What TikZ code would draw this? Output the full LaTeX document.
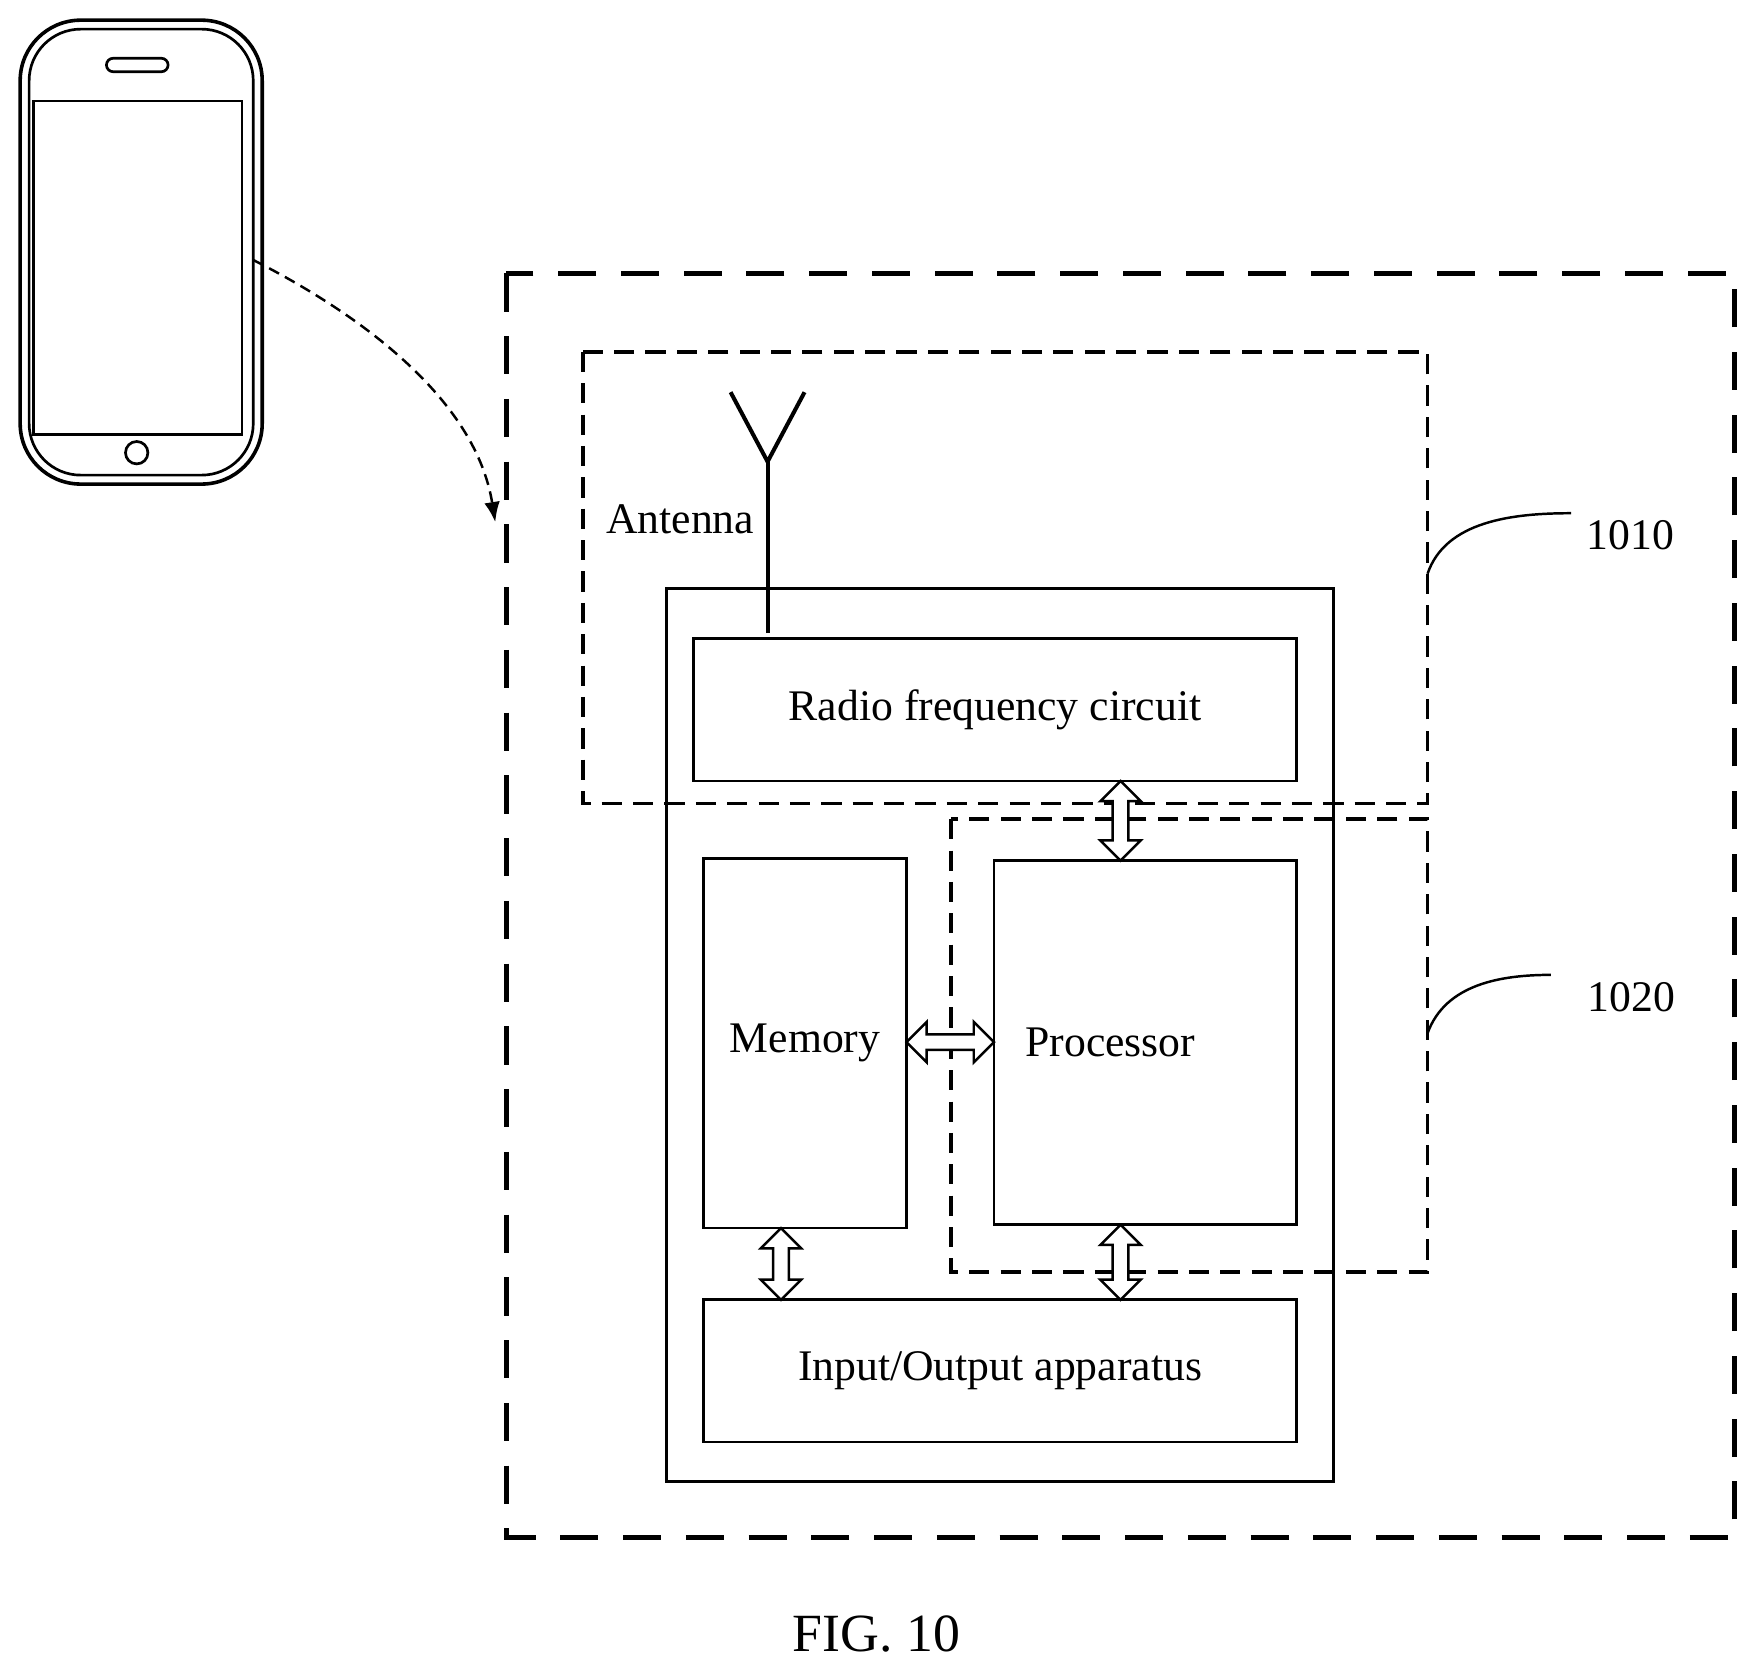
\documentclass[tikz,border=0pt]{standalone}
\usepackage{fontspec}
\setmainfont{Liberation Serif}
\usetikzlibrary{arrows.meta}
\newcommand\dblV[3]{% x, ytop, ybot
 \draw[line width=1.1pt,fill=white] (#1,#2) -- (#1+18,#2+18) -- (#1+7,#2+18) -- (#1+7,#3-18) -- (#1+18,#3-18) -- (#1,#3) -- (#1-18,#3-18) -- (#1-7,#3-18) -- (#1-7,#2+18) -- (#1-18,#2+18) -- cycle;}
\newcommand\dblH[3]{% y, xleft, xright
 \draw[line width=1.1pt,fill=white] (#2,#1) -- (#2+18,#1-18) -- (#2+18,#1-7) -- (#3-18,#1-7) -- (#3-18,#1-18) -- (#3,#1) -- (#3-18,#1+18) -- (#3-18,#1+7) -- (#2+18,#1+7) -- (#2+18,#1+18) -- cycle;}
\begin{document}
\begin{tikzpicture}[x=0.5pt,y=-0.5pt,
 box/.style={draw,line width=1.2pt,inner sep=0pt},
 lbl/.style={font=\fontsize{19.5}{21}\selectfont},
 big/.style={line width=2.4pt,dash pattern=on 17pt off 11pt},
 mid/.style={line width=1.7pt,dash pattern=on 9pt off 5pt}]
\useasboundingbox (0,0) rectangle (1568,1494);
% phone
\draw[line width=1.6pt,rounded corners=27pt] (18,18) rectangle (234,432);
\draw[line width=1.2pt,rounded corners=23pt] (26,26) rectangle (226,424);
\draw[line width=1.2pt] (30,90) rectangle (216,388);
\draw[line width=1.2pt,rounded corners=3pt] (95,52) rectangle (150,64);
\node[circle,draw,line width=1.2pt,minimum size=10pt,inner sep=0pt] (home) at (122,404) {};
\coordinate (ps) at (226,232);
\coordinate (pe) at (442,466);
\draw[line width=1.1pt,dash pattern=on 5pt off 3pt,-{Latex[length=9pt,width=7pt]}] (ps) .. controls (330,285) and (425,360) .. (pe);
% boxes
\draw[big] (452,244) rectangle (1548,1372);
\draw[mid] (520,314) rectangle (1274,717);
\draw[mid] (849,731) rectangle (1274,1135);
\draw[line width=1.2pt] (595,525) rectangle (1190,1322);
\node[box,minimum width=269pt,minimum height=63.5pt,lbl] (rf) at (888,633.5) {Radio frequency circuit};
\node[box,minimum width=90.5pt,minimum height=165pt,lbl] (mem) at (718.5,931) {Memory};
\node[box,minimum width=135pt,minimum height=162.5pt] (proc) at (1022,930.5) {};
\node[lbl,anchor=west] at (908,930) {Processor};
\node[box,minimum width=264.5pt,minimum height=63.5pt,lbl] (io) at (892.5,1223.5) {Input/Output apparatus};
% antenna
\coordinate (a1) at (685,565);
\coordinate (a2) at (685,412);
\draw[line width=1.8pt] (a1) -- (a2);
\draw[line width=1.8pt] (652,350) -- (a2) -- (718,350);
\node[lbl] at (607,463) {Antenna};
% arrows
\dblV{1000}{697}{768}
\dblH{930}{809}{887}
\dblV{697}{1096}{1160}
\dblV{1000}{1093}{1160}
% labels
\draw[line width=1.1pt] (1274,512) .. controls (1290,465) and (1350,458) .. (1402,458);
\node[lbl] at (1455,478) {1010};
\draw[line width=1.1pt] (1274,922) .. controls (1290,878) and (1340,870) .. (1384,870);
\node[lbl] at (1456,890) {1020};
\node[font=\fontsize{24}{26}\selectfont] at (782,1458) {FIG. 10};
\end{tikzpicture}
\end{document}
